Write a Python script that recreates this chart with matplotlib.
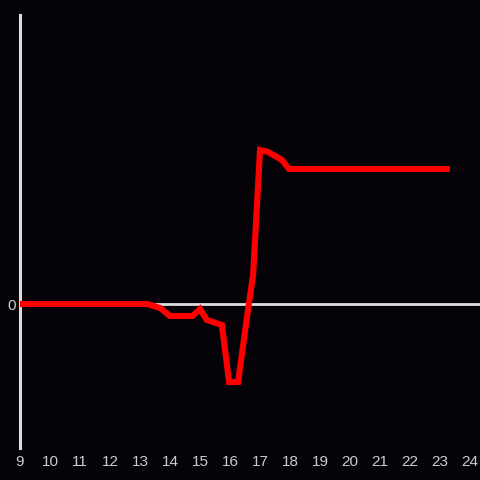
import matplotlib
matplotlib.use("Agg")
import matplotlib.pyplot as plt

hours = [9, 10, 11, 12, 13, 13.25, 13.67, 14.0, 14.75, 15.0, 15.23, 15.73,
         15.97, 16.27, 16.6, 16.77, 17.0, 17.27, 17.73, 17.97, 20, 23.33]
values = [0, 0, 0, 0, 0, 0, -0.4, -1.2, -1.2, -0.5, -1.6, -2.1,
          -7.8, -7.8, -0.6, 2.9, 15.4, 15.2, 14.4, 13.5, 13.5, 13.5]
xticks = list(range(9, 25))

bg = "#050307"
fig = plt.figure(figsize=(4.8, 4.8), dpi=100, facecolor=bg)
ax = fig.add_axes([20 / 480, 32 / 480, 460 / 480, 433 / 480], facecolor=bg)

ax.axhline(0, color="#dddddd", lw=2, zorder=1)
ax.plot(hours, values, color="#ff0000", lw=4.4, zorder=3,
        solid_joinstyle="miter", solid_capstyle="butt")

ax.set_xlim(9, 9 + 460 / 30)
ax.set_ylim(-14.4, 28.9)
ax.set_xticks(xticks)
ax.set_yticks([0])
ax.tick_params(length=0, colors="#cccccc", labelsize=11)
ax.tick_params(axis="x", pad=5)
ax.tick_params(axis="y", pad=3)
for lbl in ax.get_xticklabels() + ax.get_yticklabels():
    lbl.set_family("Liberation Sans")

for s in ["top", "right", "bottom"]:
    ax.spines[s].set_visible(False)
ax.spines["left"].set_color("#dddddd")
ax.spines["left"].set_linewidth(2.2)

fig.savefig("out.png", dpi=100, facecolor=bg)
